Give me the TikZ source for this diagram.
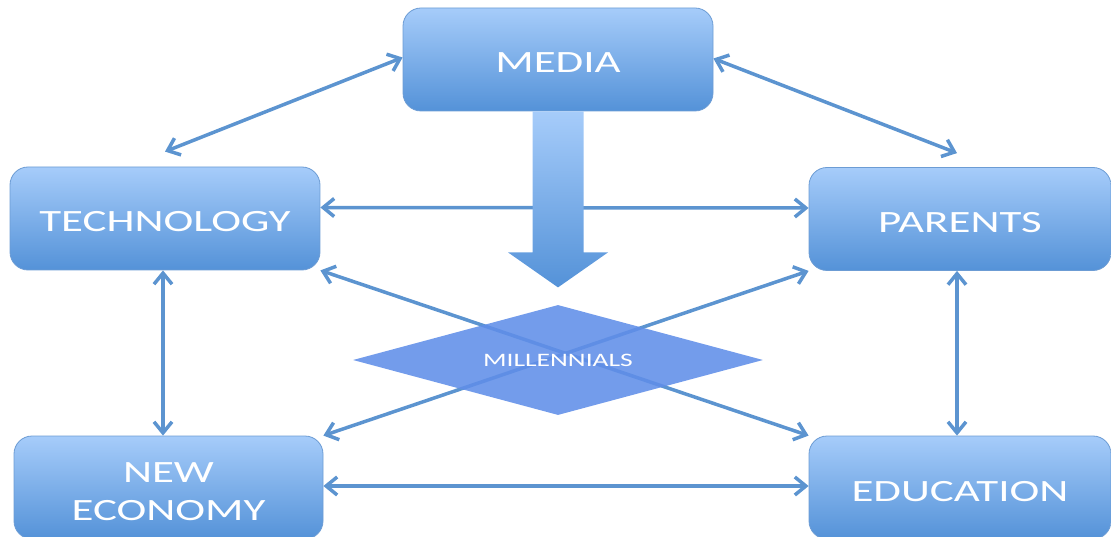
\documentclass[tikz,border=0pt]{standalone}
\usepackage{fontspec}
\newfontfamily\labelfont[FakeStretch=1.45]{Carlito}
\usetikzlibrary{arrows.meta,shapes.geometric,calc}
\definecolor{boxtop}{RGB}{166,204,250}
\definecolor{boxbot}{RGB}{84,146,216}
\definecolor{boxedge}{RGB}{108,156,212}
\definecolor{linkblue}{RGB}{92,148,208}
\definecolor{hubblue}{RGB}{96,142,232}
% box labels sit a little below the box centre
\newcommand\boxtext[1]{\raisebox{0pt}[27pt][0pt]{#1}}
\newcommand\boxtexttwo[2]{\raisebox{0pt}[27pt][38pt]{%
  \begin{tabular}[t]{@{}c@{}}#1\\#2\end{tabular}}}

\begin{document}
\begin{tikzpicture}[x=1pt,y=-1pt,
  topic/.style={rectangle, rounded corners=18pt, minimum width=310pt,
    minimum height=103pt, top color=boxtop, bottom color=boxbot,
    draw=boxedge, line width=0.8pt, text=white, inner sep=0pt,
    font=\labelfont\fontsize{31}{38}\selectfont},
  relation/.style={draw=linkblue, line width=3.5pt,
    {Straight Barb[length=11pt,width=18pt]}-{Straight Barb[length=11pt,width=18pt]}},
  hub/.style={diamond, aspect=3.7, minimum width=410pt, minimum height=110pt,
    inner sep=0pt, fill=hubblue, fill opacity=0.88, text opacity=1, text=white,
    font=\labelfont\fontsize{19}{24}\selectfont}
]
\useasboundingbox (0,0) rectangle (1111,537);
\clip (0,0) rectangle (1111,537);

% the five influences
\node[topic] (media) at (558,59.5) {\boxtext{MEDIA}};
\node[topic] (tech) at (165,218.5) {\boxtext{TECHNOLOGY}};
\node[topic, minimum width=302pt] (par) at (960,219) {\boxtext{PARENTS}};
\node[topic, minimum width=309pt] (econ) at (168.5,487.5) {\boxtexttwo{NEW}{ECONOMY}};
\node[topic, minimum width=302pt] (edu) at (960,487.5) {\boxtext{EDUCATION}};

% free ends of the two upper diagonals
\coordinate (techtop) at ($(tech.north)+(0,-15)$);
\coordinate (partop) at ($(par.north)+(-3,-14)$);

% two-way links
\draw[relation] ([yshift=2pt]media.west) -- (techtop);
\draw[relation] ([yshift=1pt]media.east) -- (partop);
\draw[relation] ([yshift=11pt]tech.east) -- ([yshift=11pt]par.west);
\draw[relation] ([xshift=-2pt]tech.south) -- ([xshift=-2pt]tech.south |- econ.north);
\draw[relation] ([xshift=-3pt]par.south) -- ([xshift=-3pt]par.south |- edu.north);
\draw[relation] ([yshift=1.5pt]econ.east) -- ([yshift=1.5pt]edu.west);
\draw[relation] (tech.south east) -- (edu.north west);
\draw[relation] (econ.north east) -- (par.south west);

% broad arrow from MEDIA down to the centre
\path[top color=boxtop, bottom color=boxbot]
  ($(media.south)+(-25.5,0)$) -- ($(media.south)+(25.5,0)$)
  -- ($(media.south)+(25.5,141)$) -- ($(media.south)+(50,141)$)
  -- ($(media.south)+(0,176)$) -- ($(media.south)+(-50,141)$)
  -- ($(media.south)+(-25.5,141)$) -- cycle;

% centre
\node[hub] (mill) at (558,360) {MILLENNIALS};
\end{tikzpicture}
\end{document}
